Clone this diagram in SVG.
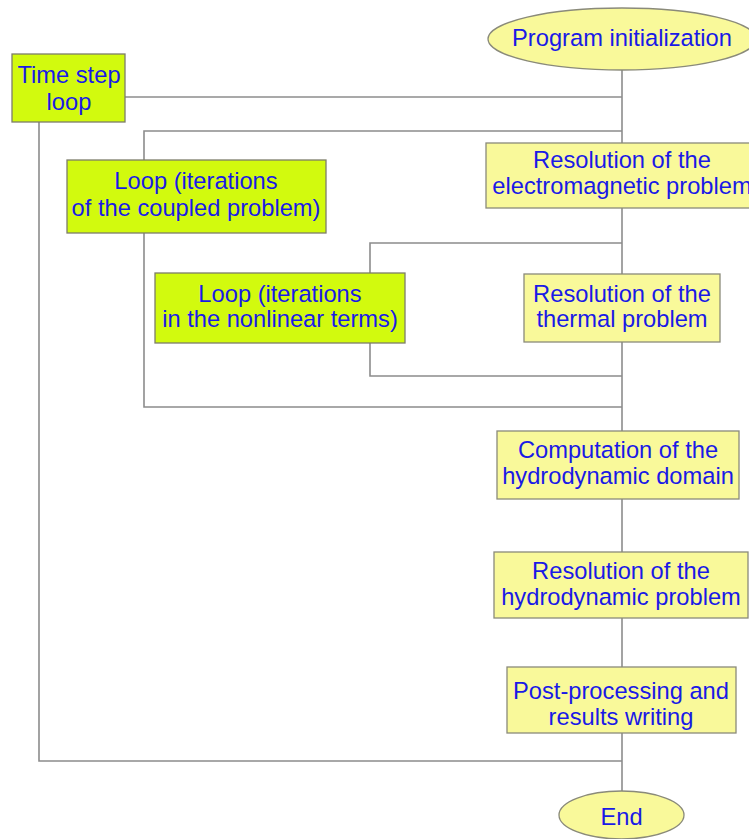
<svg xmlns="http://www.w3.org/2000/svg" width="749" height="839" viewBox="0 0 749 839">
<style>
.c{fill:none;stroke:#8c8c8c;stroke-width:1.6}
.lime{fill:#d2fa0e;stroke:#7d7d6a;stroke-width:1.3}
.yel{fill:#f9f99a;stroke:#8a8a7a;stroke-width:1.3}
text{font-family:"Liberation Sans",Arial,sans-serif;font-size:23.7px;fill:#1a1ae6;text-anchor:middle}
</style>
<rect width="749" height="839" fill="#ffffff"/>
<g id="connectors">
<path class="c" d="M622,70 V792"/>
<path class="c" d="M125,97 H622"/>
<path class="c" d="M39,122 V761 H622"/>
<path class="c" d="M144,160 V131 H622"/>
<path class="c" d="M144,233 V407 H622"/>
<path class="c" d="M370,273 V243 H622"/>
<path class="c" d="M370,343 V376 H622"/>
</g>
<g id="init">
<ellipse class="yel" cx="622" cy="39" rx="134" ry="31"/>
<text x="622" y="46">Program initialization</text>
</g>
<g id="timeloop">
<rect class="lime" x="12" y="54" width="113" height="68"/>
<text x="69" y="83">Time step</text>
<text x="69" y="110">loop</text>
</g>
<g id="coupledloop">
<rect class="lime" x="67" y="160" width="259" height="73"/>
<text x="196" y="189">Loop (iterations</text>
<text x="196" y="216">of the coupled problem)</text>
</g>
<g id="em">
<rect class="yel" x="486" y="143" width="272" height="65"/>
<text x="622" y="168">Resolution of the</text>
<text x="622" y="194">electromagnetic problem</text>
</g>
<g id="nonlinearloop">
<rect class="lime" x="155" y="273" width="250" height="70"/>
<text x="280" y="302">Loop (iterations</text>
<text x="280" y="327">in the nonlinear terms)</text>
</g>
<g id="thermal">
<rect class="yel" x="524" y="274" width="196" height="68"/>
<text x="622" y="302">Resolution of the</text>
<text x="622" y="327">thermal problem</text>
</g>
<g id="hydrodomain">
<rect class="yel" x="497" y="431" width="242" height="68"/>
<text x="618" y="458">Computation of the</text>
<text x="618" y="484">hydrodynamic domain</text>
</g>
<g id="hydroproblem">
<rect class="yel" x="494" y="552" width="254" height="66"/>
<text x="621" y="579">Resolution of the</text>
<text x="621" y="605">hydrodynamic problem</text>
</g>
<g id="post">
<rect class="yel" x="507" y="667" width="229" height="66"/>
<text x="621" y="699">Post-processing and</text>
<text x="621" y="725">results writing</text>
</g>
<g id="end">
<ellipse class="yel" cx="621.5" cy="815" rx="62.5" ry="24"/>
<text x="621.5" y="825">End</text>
</g>
</svg>
